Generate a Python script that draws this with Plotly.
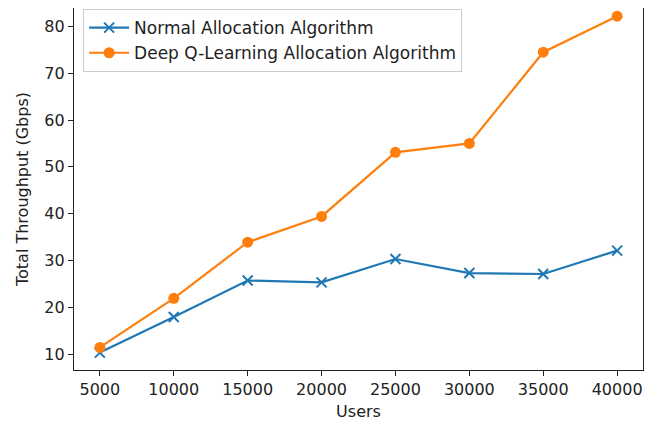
import plotly.graph_objects as go

users = [5000, 10000, 15000, 20000, 25000, 30000, 35000, 40000]
normal = [10.3, 17.9, 25.7, 25.3, 30.3, 27.3, 27.1, 32.1]
deepq = [11.4, 21.9, 33.9, 39.4, 53.1, 55.0, 74.5, 82.2]
x_ticks = [5000, 10000, 15000, 20000, 25000, 30000, 35000, 40000]
x_tick_labels = ["5000", "10000", "15000", "20000", "25000", "30000", "35000", "40000"]
y_ticks = [10, 20, 30, 40, 50, 60, 70, 80]

FONT = "DejaVu Sans"

fig = go.Figure()
fig.add_trace(go.Scatter(
    x=users, y=normal, mode="lines+markers", name="Normal Allocation Algorithm",
    line=dict(color="#1f77b4", width=2.2),
    marker=dict(symbol="x-thin", size=10, color="#1f77b4",
                line=dict(color="#1f77b4", width=2)),
))
fig.add_trace(go.Scatter(
    x=users, y=deepq, mode="lines+markers", name="Deep Q-Learning Allocation Algorithm",
    line=dict(color="#ff7f0e", width=2.2),
    marker=dict(symbol="circle", size=11, color="#ff7f0e"),
))

axis_common = dict(
    showgrid=False, zeroline=False, showline=True, linecolor="#222", linewidth=1.2,
    mirror=True, ticks="outside", ticklen=5, tickwidth=1.2, tickcolor="#222",
    tickfont=dict(family=FONT, size=16, color="#222"), automargin=False,
)

fig.update_layout(
    width=668, height=427,
    margin=dict(l=66, r=33, t=0, b=65),
    paper_bgcolor="white", plot_bgcolor="white",
    font=dict(family=FONT, size=16, color="#222"),
    xaxis=dict(range=[3250, 41750], tickvals=x_ticks, ticktext=x_tick_labels,
               title=dict(text="Users", font=dict(family=FONT, size=16, color="#222"), standoff=7),
               **axis_common),
    yaxis=dict(range=[6.58, 83.95], tickvals=y_ticks,
               title=dict(text="Total Throughput (Gbps)", font=dict(family=FONT, size=16, color="#222"), standoff=11),
               **axis_common),
    legend=dict(x=0.016, y=0.997, xanchor="left", yanchor="top",
                bgcolor="rgba(255,255,255,0.8)", bordercolor="#cccccc", borderwidth=1,
                font=dict(family=FONT, size=17, color="#222"), tracegroupgap=2,
                itemwidth=40),
    showlegend=True,
)

fig.write_html("out.html")
